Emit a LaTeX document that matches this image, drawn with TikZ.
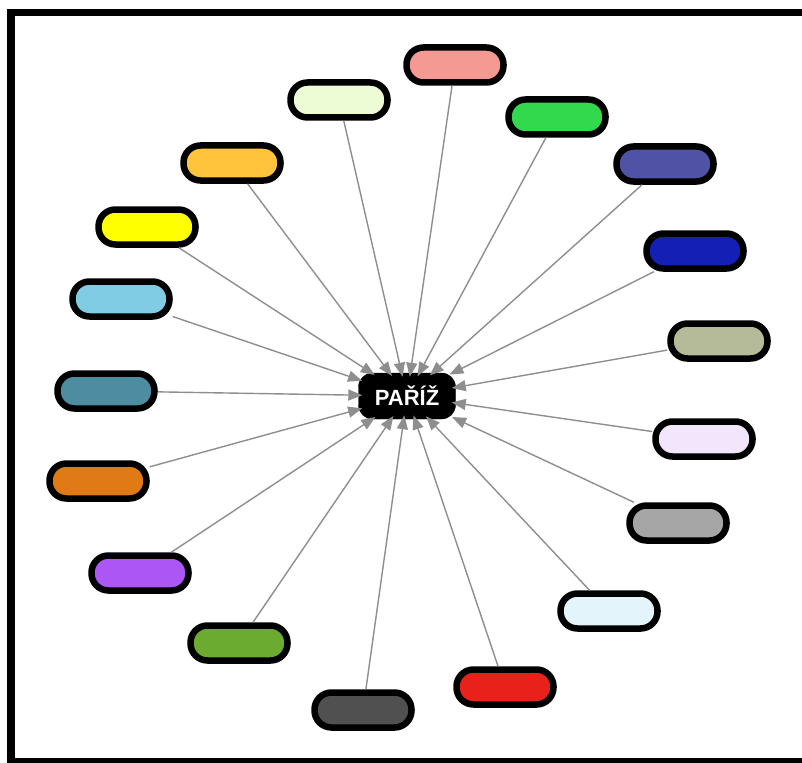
\documentclass[tikz,border=0pt]{standalone}
\usepackage{fontspec}
\setmainfont{Liberation Sans}
\usetikzlibrary{arrows.meta}
\definecolor{cA}{HTML}{F59A92}
\definecolor{cB}{HTML}{EEFCD6}
\definecolor{cC}{HTML}{33D94C}
\definecolor{cD}{HTML}{5052A5}
\definecolor{cE}{HTML}{FFC33C}
\definecolor{cF}{HTML}{FFFF00}
\definecolor{cG}{HTML}{1420B4}
\definecolor{cH}{HTML}{7FCCE4}
\definecolor{cI}{HTML}{B5BB99}
\definecolor{cJ}{HTML}{4E8CA1}
\definecolor{cK}{HTML}{F1E6FC}
\definecolor{cL}{HTML}{DF7A15}
\definecolor{cM}{HTML}{A6A6A6}
\definecolor{cN}{HTML}{AC57F5}
\definecolor{cO}{HTML}{E4F4FB}
\definecolor{cP}{HTML}{6AAB30}
\definecolor{cQ}{HTML}{E8221B}
\definecolor{cR}{HTML}{505050}
\definecolor{edgegray}{HTML}{8E8E8E}
\tikzset{
  sat/.style={draw=black, line width=6.5pt, rounded corners=17pt, minimum width=97pt, minimum height=35pt, inner sep=0pt},
  hub/.style={fill=black, draw=black, rounded corners=14pt, minimum width=97pt, minimum height=46pt, inner sep=0pt},
  hubtext/.style={text=white, inner sep=0pt, font=\fontsize{22}{26}\selectfont\bfseries},
  link/.style={draw=edgegray, line width=1.4pt, -{Triangle[length=14pt,width=11pt]}, shorten >=-4pt}
}
\begin{document}
\begin{tikzpicture}[x=1pt,y=-1pt]
\useasboundingbox (0,0) rectangle (802,762);
\begin{scope}
\clip (0,0) rectangle (802,762);
\draw[line width=7.5pt] (11,12.5) rectangle (815,762);
\end{scope}
\node[hub] (c) at (407,396) {};
\node[sat, fill=cA] (n1) at (455,65) {};
\node[sat, fill=cB] (n2) at (339,100) {};
\node[sat, fill=cC] (n3) at (557,117) {};
\node[sat, fill=cD] (n4) at (665,164) {};
\node[sat, fill=cE] (n5) at (232,163) {};
\node[sat, fill=cF] (n6) at (147,227) {};
\node[sat, fill=cG] (n7) at (695,251) {};
\node[sat, fill=cH] (n8) at (121,299) {};
\node[sat, fill=cI] (n9) at (719,341) {};
\node[sat, fill=cJ] (n10) at (106,391) {};
\node[sat, fill=cK] (n11) at (704,439) {};
\node[sat, fill=cL] (n12) at (98,481) {};
\node[sat, fill=cM] (n13) at (678,523) {};
\node[sat, fill=cN] (n14) at (140,573) {};
\node[sat, fill=cO] (n15) at (609,611) {};
\node[sat, fill=cP] (n16) at (239,643) {};
\node[sat, fill=cQ] (n17) at (505,687) {};
\node[sat, fill=cR] (n18) at (363,710) {};
\foreach \i in {1,...,18} {
  \draw[link] (n\i) -- (c);
}
\node[hubtext] (ct) at (c) {PAŘÍŽ};
\end{tikzpicture}
\end{document}
